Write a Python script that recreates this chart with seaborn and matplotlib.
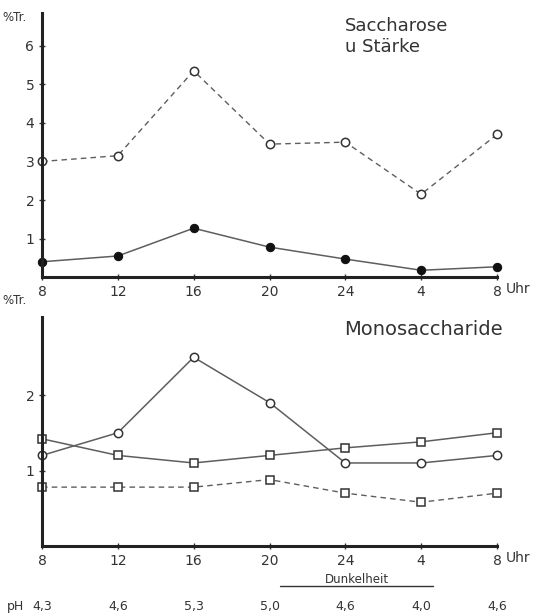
import pandas as pd
import matplotlib.pyplot as plt
import matplotlib.transforms as mtransforms
import seaborn as sns

# Zeitpunkte (Uhr) und Messwerte in % Trockengewicht
hours = ['8', '12', '16', '20', '24', '4', '8']
ph_values = ['4,3', '4,6', '5,3', '5,0', '4,6', '4,0', '4,6']

# Saccharose u. Stärke
starch_dashed = [3.0, 3.15, 5.35, 3.45, 3.5, 2.15, 3.7]
sucrose_solid = [0.4, 0.55, 1.27, 0.78, 0.47, 0.18, 0.27]

# Monosaccharide
mono_peak = [1.2, 1.5, 2.5, 1.9, 1.1, 1.1, 1.2]
mono_square = [1.42, 1.2, 1.1, 1.2, 1.3, 1.38, 1.5]
mono_dashed = [0.78, 0.78, 0.78, 0.88, 0.7, 0.58, 0.7]

sns.set_style("ticks")
plt.rcParams['font.family'] = ['DejaVu Sans']
ink = '#333333'
line_c = '#5e5e5e'

pos = list(range(len(hours)))
df_top = pd.DataFrame({'pos': pos, 'dashed': starch_dashed, 'solid': sucrose_solid})
df_bot = pd.DataFrame({'pos': pos, 'peak': mono_peak, 'square': mono_square, 'dashed': mono_dashed})

fig = plt.figure(figsize=(5.35, 6.16), dpi=100)
ax1 = fig.add_axes([0.0785, 0.550, 0.8505, 0.429])
ax2 = fig.add_axes([0.0785, 0.1136, 0.8505, 0.3714])

sns.lineplot(data=df_top, x='pos', y='dashed', ax=ax1, color=line_c, lw=1.0,
             linestyle=(0, (4, 3)), marker='o', markersize=6,
             markerfacecolor='white', markeredgecolor=ink, markeredgewidth=1.1)
sns.lineplot(data=df_top, x='pos', y='solid', ax=ax1, color=line_c, lw=1.1,
             marker='o', markersize=6, markerfacecolor='#111111', markeredgecolor='#111111')

sns.lineplot(data=df_bot, x='pos', y='peak', ax=ax2, color=line_c, lw=1.1,
             marker='o', markersize=6, markerfacecolor='white',
             markeredgecolor=ink, markeredgewidth=1.1)
sns.lineplot(data=df_bot, x='pos', y='square', ax=ax2, color=line_c, lw=1.1,
             marker='s', markersize=5.5, markerfacecolor='white',
             markeredgecolor=ink, markeredgewidth=1.1)
sns.lineplot(data=df_bot, x='pos', y='dashed', ax=ax2, color=line_c, lw=1.0,
             linestyle=(0, (4, 3)), marker='s', markersize=5.5, markerfacecolor='white',
             markeredgecolor=ink, markeredgewidth=1.1)

for ax in (ax1, ax2):
    sns.despine(ax=ax)
    ax.spines['left'].set_linewidth(2.2)
    ax.spines['bottom'].set_linewidth(2.2)
    ax.spines['left'].set_color('#222222')
    ax.spines['bottom'].set_color('#222222')
    ax.set_xlim(0, 6)
    ax.set_xticks(pos)
    ax.set_xticklabels(hours)
    ax.set_xlabel('')
    ax.set_ylabel('')
    ax.tick_params(direction='inout', length=5, width=1, color=ink,
                   labelsize=10, labelcolor=ink, pad=3)
    ax.set_facecolor('none')
    for s in ('left', 'bottom'):
        ax.spines[s].set_clip_on(False)
    for ln in ax.lines:
        ln.set_clip_on(False)

ax1.set_ylim(0, 6.85)
ax1.set_yticks([1, 2, 3, 4, 5, 6])
ax2.set_ylim(0, 3.03)
ax2.set_yticks([1, 2])

# Achsenbeschriftungen
fig.text(0.005, 0.972, '%Tr.', fontsize=8.5, color=ink, ha='left', va='center')
fig.text(0.005, 0.512, '%Tr.', fontsize=8.5, color=ink, ha='left', va='center')
ax1.text(1.02, -0.045, 'Uhr', transform=ax1.transAxes,
         fontsize=10, color=ink, ha='left', va='center')
ax2.text(1.02, -0.052, 'Uhr', transform=ax2.transAxes,
         fontsize=10, color=ink, ha='left', va='center')

ax1.text(0.665, 0.985, 'Saccharose\nu Stärke', transform=ax1.transAxes,
         fontsize=13, color=ink, ha='left', va='top', linespacing=1.2)
ax2.text(0.665, 0.945, 'Monosaccharide', transform=ax2.transAxes,
         fontsize=14, color=ink, ha='left', va='center')

# Dunkelheit und pH-Werte
trans = mtransforms.blended_transform_factory(ax2.transData, ax2.transAxes)
ax2.text(4.15, -0.148, 'Dunkelheit', transform=trans, fontsize=8.5,
         color=ink, ha='center', va='center')
ax2.plot([3.14, 5.16], [-0.175, -0.175], transform=trans, color=ink,
         lw=1.0, clip_on=False)
for p, v in zip(pos, ph_values):
    ax2.text(p, -0.266, v, transform=trans, fontsize=9, color=ink,
             ha='center', va='center')
fig.text(0.012, 0.015, 'pH', fontsize=9, color=ink, ha='left', va='center')

fig.savefig('out.png', dpi=100)
